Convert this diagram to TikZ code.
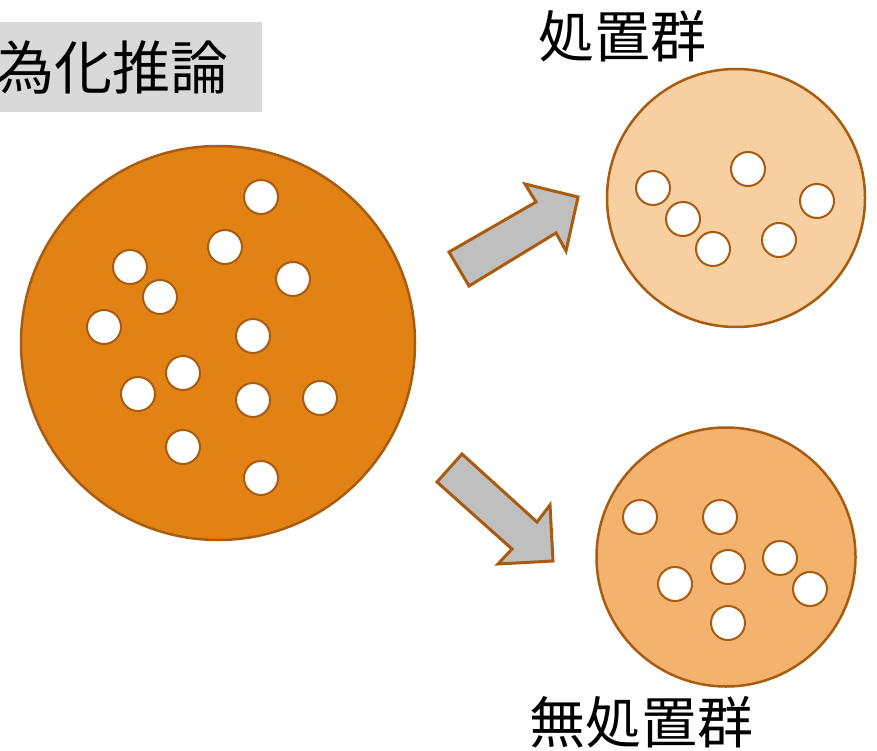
\documentclass[tikz,border=0pt]{standalone}
\usepackage{fontspec}
\newfontfamily\cjk{Noto Sans CJK JP}
\definecolor{bigfill}{HTML}{E38214}
\definecolor{topfill}{HTML}{F7CFA1}
\definecolor{botfill}{HTML}{F3B26D}
\definecolor{edge}{HTML}{A95C0F}
\definecolor{arrowfill}{HTML}{BFBFBF}
\definecolor{boxgray}{HTML}{D9D9D9}
\tikzset{
  dot/.style={circle, draw=edge, line width=2pt, fill=white, minimum size=34pt, inner sep=0pt},
  group/.style={circle, draw=edge, line width=2.5pt, inner sep=0pt},
  fatarrow/.style={draw=edge, fill=arrowfill, line width=3pt, line join=miter},
  lbl/.style={font=\cjk\fontsize{56}{60}\selectfont, inner sep=0pt},
  titlelbl/.style={font=\cjk\fontsize{58}{60}\selectfont, inner sep=0pt}
}
\begin{document}
\begin{tikzpicture}[x=1pt,y=-1pt]
\useasboundingbox (0,0) rectangle (877,751);
% title box
\fill[boxgray] (0,22) rectangle (262,112);
\begin{scope}
\clip (0,0) rectangle (877,751);
\node[titlelbl, anchor=east] (title) at (229,67) {為化推論};
\end{scope}
% groups
\node[group, fill=bigfill, minimum size=394pt] (big) at (218,343) {};
\node[group, fill=topfill, minimum size=258pt] (treat) at (736,198) {};
\node[group, fill=botfill, minimum size=259pt] (ctrl) at (726,557) {};
% dots in big circle
\foreach \i/\x/\y in {1/261/197,2/225/247,3/130/267,4/160/297,5/293/279,6/104/327,7/253/336,8/183/373,9/138/394,10/253/400,11/320/398,12/183/447,13/261/478}
  \node[dot] (b\i) at (\x,\y) {};
% dots in treated
\foreach \i/\x/\y in {1/653/188,2/748/169,3/683/219,4/713/249,5/817/201,6/779/240}
  \node[dot] (t\i) at (\x,\y) {};
% dots in control
\foreach \i/\x/\y in {1/640/517,2/720/517,3/728/567,4/780/558,5/675/584,6/810/589,7/728/623}
  \node[dot] (c\i) at (\x,\y) {};
% arrows
\draw[fatarrow] (449,252) -- (536,202) -- (525,184) -- (578,197) -- (566,251) -- (556,233) -- (469,286) -- cycle;
\draw[fatarrow] (437,482) -- (462,454) -- (537,522) -- (550,505) -- (553,561) -- (498,564) -- (512,549) -- cycle;
% labels
\node[lbl] (treatlbl) at (622,36) {処置群};
\node[lbl] (ctrllbl) at (641,722) {無処置群};
\end{tikzpicture}
\end{document}
